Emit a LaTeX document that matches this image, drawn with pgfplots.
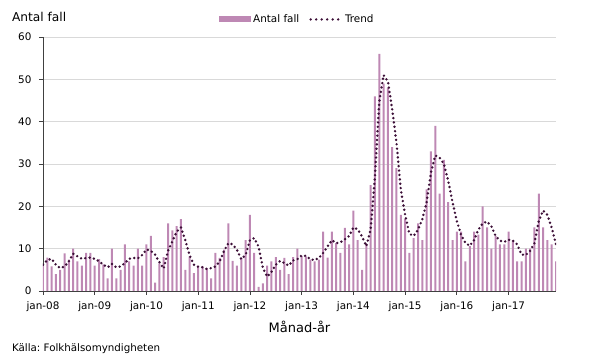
\documentclass[border=0pt]{standalone}
\usepackage{fontspec}
\setmainfont{DejaVu Sans}
\usepackage{pgfplots}
\usepackage{pgfplotstable}
\pgfplotsset{compat=1.18}
\definecolor{barc}{RGB}{190,136,180}
\definecolor{trendc}{RGB}{60,15,55}
\definecolor{gridc}{RGB}{217,217,217}
\definecolor{axc}{RGB}{64,64,64}
\pgfplotstableread{
i antal trend
0 6 6.2
1 7.9 7.3
2 5.8 7.6
3 4 6.2
4 5 5.4
5 8.9 5.8
6 7.4 7
7 10 8.8
8 7 8.2
9 6 7.6
10 9 7.8
11 9 7.9
12 6 7.6
13 7.5 7
14 6.3 6.2
15 3 5.6
16 10 6.4
17 3 5.6
18 5 5.8
19 11 6.6
20 7 7.6
21 6 7.8
22 10 7.7
23 6 8.5
24 11 9.8
25 13 9.5
26 2 8.6
27 6.5 6.8
28 8 5.3
29 16 9.5
30 14.3 11.7
31 15.3 14
32 17 15
33 5 12
34 8.2 8.5
35 4.2 6.2
36 6 5.7
37 5.8 5.6
38 5.4 5.2
39 3 5.4
40 9 5.8
41 7.8 7
42 9.8 9.5
43 16 11.3
44 7.1 11
45 6 9.7
46 7.8 7.5
47 12 8.5
48 18 12
49 9 12.5
50 1 10.5
51 1.8 5.5
52 6 3.4
53 7 4.5
54 8 6.2
55 5 7.1
56 7.8 6.6
57 4 6
58 8 7.2
59 10 7.5
60 8.3 8.4
61 8.2 8.3
62 7.4 7.5
63 7 7.3
64 7.4 7.8
65 14 9
66 7.9 10.5
67 14 12
68 11.3 11.3
69 9 11.5
70 14.9 12.2
71 11 13
72 19 15
73 12 14.6
74 5 12.9
75 11 10.6
76 25 14.5
77 46 27
78 56 44.7
79 49 51
80 48 49.5
81 34 43
82 29 35
83 18 24
84 17 18
85 9 13.5
86 12.5 13
87 16 14.5
88 12 17
89 24 21
90 33 28
91 39 32
92 23 31.5
93 31 30
94 21 26
95 12 21
96 14 16.5
97 14 13.2
98 7 11.3
99 10.6 10.7
100 14 12
101 13.3 14.5
102 20 16
103 15 16.4
104 10 15.3
105 13 13
106 11 11.9
107 11 11.6
108 14 12.1
109 12 11.9
110 7 11
111 7 8.6
112 10 8.5
113 10 9.5
114 15 11.3
115 23 16.5
116 15 19
117 12 18
118 11 15
119 7 11
}\data

\begin{document}
\begin{tikzpicture}
\useasboundingbox (-43pt,-65pt) rectangle (547pt,291pt);
\begin{axis}[
 scale only axis, width=513pt, height=254pt,
 xmin=0, xmax=119, ymin=0, ymax=60,
 axis lines*=left,
 axis line style={draw=axc, line width=0.8pt},
 ytick={0,10,...,60},
 xtick={0,12,...,108},
 xticklabels={jan-08,jan-09,jan-10,jan-11,jan-12,jan-13,jan-14,jan-15,jan-16,jan-17},
 tick align=outside,
 major tick length=4pt,
 tick style={draw=axc, line width=0.8pt},
 ymajorgrids, grid style={draw=gridc, line width=0.8pt},
 ticklabel style={font=\fontsize{10.4}{12}\selectfont},
 /pgf/number format/assume math mode=true,
 xticklabel style={yshift=-3pt},
 yticklabel style={xshift=-4pt},
 legend columns=2,
 legend style={draw=none, fill=none, at={(axis description cs:0.343,1.069)}, anchor=west,
   font=\fontsize{10.4}{12}\selectfont, inner sep=0pt,
   /tikz/every even column/.append style={column sep=8pt}},
 legend cell align=left,
]
\addplot[ybar, bar width=2pt, bar shift=0pt, fill=barc, draw=none,
  legend image code/.code={\fill[barc] (0pt,-3pt) rectangle (32pt,3pt);}]
  table[x=i,y=antal]{\data};
\addlegendentry{Antal fall}
\addplot[trendc, line width=2.7pt, line cap=round, dash pattern=on 0pt off 4.4pt,
  legend image code/.code={\draw[trendc, line width=2.7pt, line cap=round, dash pattern=on 0pt off 5.5pt] (2pt,0pt) -- (33pt,0pt);}]
  table[x=i,y=trend]{\data};
\addlegendentry{Trend}
\end{axis}
\node[anchor=west, font=\fontsize{12.2}{14}\selectfont] at (-34.5pt,274pt) {Antal fall};
\node[font=\fontsize{13}{15}\selectfont] at (256.5pt,-36pt) {Månad-år};
\node[anchor=west, font=\fontsize{10.3}{12}\selectfont] at (-34.5pt,-58pt) {Källa:~Folkhälsomyndigheten};
\end{tikzpicture}
\end{document}
